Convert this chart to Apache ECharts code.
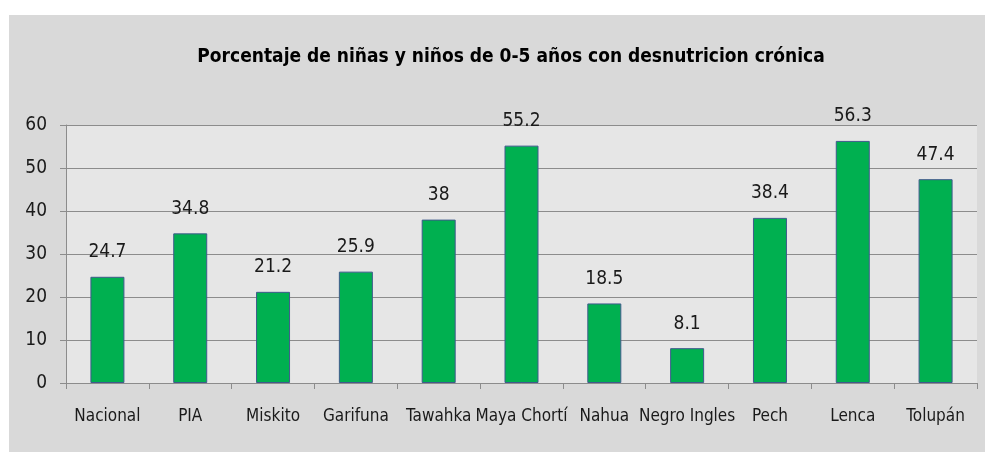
<!DOCTYPE html>
<html><head><meta charset="utf-8">
<script src="https://cdn.jsdelivr.net/npm/echarts@6/dist/echarts.min.js"></script>
<style>html,body{margin:0;padding:0;background:#fff}#c{width:985px;height:452px}</style>
</head><body><div id="c"></div>
<script>
const titleText = 'Porcentaje de niñas y niños de 0-5 años con desnutricion crónica';
const categories = ['Nacional','PIA','Miskito','Garifuna','Tawahka','Maya Chortí','Nahua','Negro Ingles','Pech','Lenca','Tolupán'];
const values = [24.7, 34.8, 21.2, 25.9, 38, 55.2, 18.5, 8.1, 38.4, 56.3, 47.4];
const yTicks = [0, 10, 20, 30, 40, 50, 60];

const font = '"Liberation Sans Narrow", "DejaVu Sans Condensed", "Liberation Sans", sans-serif';
const chart = echarts.init(document.getElementById('c'), null, {renderer:'canvas'});
chart.setOption({
  backgroundColor: '#ffffff',
  animation: false,
  graphic: [{type:'rect', z:-10, shape:{x:9,y:15,width:985,height:445}, style:{fill:'#d9d9d9'}}],
  title: {text: titleText, left: 506, textAlign:'center', top: 43, textStyle:{fontFamily:font, fontWeight:'bold', fontSize:19, color:'#000'}},
  grid: {left:66, right:8, top:125, bottom:69, show:true, backgroundColor:'#e6e6e6', borderWidth:0},
  xAxis: {type:'category', data:categories,
    axisLine:{lineStyle:{color:'#8c8c8c', width:1}},
    axisTick:{show:true, length:6, lineStyle:{color:'#8c8c8c'}},
    axisLabel:{fontFamily:font, fontSize:17, color:'#1a1a1a', margin:25, interval:0}},
  yAxis: {type:'value', min:yTicks[0], max:yTicks[yTicks.length-1], interval:10,
    axisLine:{show:true, lineStyle:{color:'#8c8c8c'}},
    axisTick:{show:true, length:6, lineStyle:{color:'#8c8c8c'}},
    splitLine:{lineStyle:{color:'#8c8c8c', width:1}},
    axisLabel:{fontFamily:font, fontSize:19, color:'#1a1a1a', margin:19}},
  series: [{type:'bar', data:values, barWidth:34,
    itemStyle:{color:'#00b050', borderColor:'#3f5a8c', borderWidth:1},
    label:{show:true, position:'top', distance:15, fontFamily:font, fontSize:19, color:'#1a1a1a'}}]
});
</script></body></html>
